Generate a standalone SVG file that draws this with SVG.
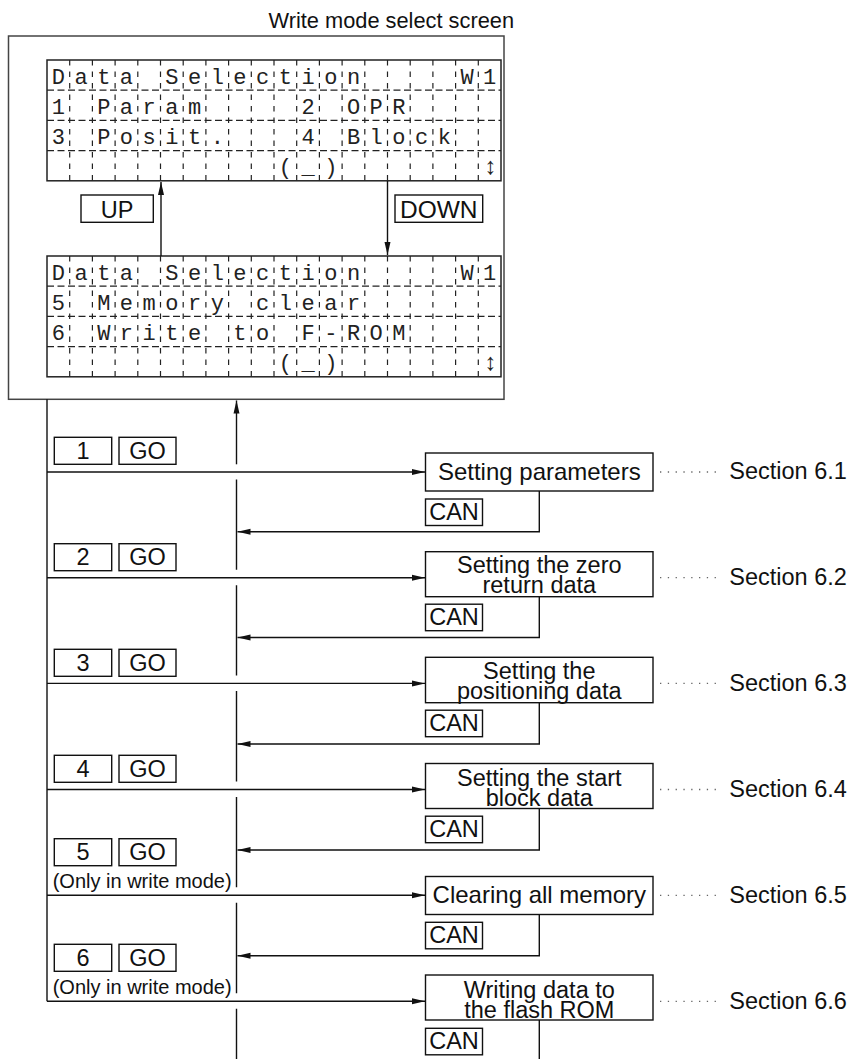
<svg xmlns="http://www.w3.org/2000/svg" width="851" height="1059" viewBox="0 0 851 1059">
<defs>
<marker id="ah" markerWidth="14" markerHeight="8" refX="13" refY="4" orient="auto" markerUnits="userSpaceOnUse"><path d="M0,1 L13,4 L0,7 z" fill="#111"/></marker>
<style>
.ln{stroke:#111;stroke-width:1.4;fill:none}
.fr{stroke:#444;stroke-width:1.5;fill:none}
.box{fill:#fff;stroke:#111;stroke-width:1.4}
.lcd{fill:#fff;stroke:#222;stroke-width:1.5}
.vd{stroke:#222;stroke-width:1.2;stroke-dasharray:5.5 6;fill:none}
.hd{stroke:#222;stroke-width:1.2;stroke-dasharray:7 3.5;fill:none}
.dot{stroke:#666;stroke-width:1.3;stroke-dasharray:1.3 6.5;fill:none}
.t{font-family:"Liberation Sans",Arial,sans-serif;font-size:23.5px;fill:#111}
.b{font-family:"Liberation Sans",Arial,sans-serif;font-size:23.5px;fill:#111;text-anchor:middle}
.k{font-family:"Liberation Sans",Arial,sans-serif;font-size:23.5px;fill:#111;text-anchor:middle}
.n{font-family:"Liberation Sans",Arial,sans-serif;font-size:20px;fill:#111}
.m{font-family:"Liberation Mono","Courier New",monospace;font-size:22px;fill:#222;letter-spacing:9.5px}
.ar{font-size:24px}
</style>
</defs>

<text id="title" class="t" x="268.5" y="28" style="font-size:21.8px">Write mode select screen</text>

<g id="screen-frame"><rect class="fr" x="8.5" y="36" width="495.5" height="363.3"/></g>

<g id="lcd1">
<rect class="lcd" x="47" y="60" width="454" height="120.8"/>
<path class="vd" d="M69.7,60V180.8M92.4,60V180.8M115.1,60V180.8M137.8,60V180.8M160.5,60V180.8M183.2,60V180.8M205.9,60V180.8M228.6,60V180.8M251.3,60V180.8M274,60V180.8M296.7,60V180.8M319.4,60V180.8M342.1,60V180.8M364.8,60V180.8M387.5,60V180.8M410.2,60V180.8M432.9,60V180.8M455.6,60V180.8M478.3,60V180.8"/>
<path class="hd" d="M47,90.2H501M47,120.4H501M47,150.6H501"/>
<text class="m" x="51.75" y="83.5" xml:space="preserve">Data Selection    W1</text>
<text class="m" x="51.75" y="113.7" xml:space="preserve">1 Param    2 OPR</text>
<text class="m" x="51.75" y="143.9" xml:space="preserve">3 Posit.   4 Block</text>
<text class="m" x="51.75" y="174.1" xml:space="preserve">          (_)      <tspan class="ar">↕</tspan></text>
</g>

<g id="key-up"><rect class="box" x="81" y="195" width="72.3" height="27.3"/><text class="k" x="117.2" y="218">UP</text></g>
<g id="key-down"><rect class="box" x="395" y="195" width="87.7" height="27.3"/><text class="k" x="438.8" y="218" style="font-size:24.5px">DOWN</text></g>

<g id="lcd2">
<rect class="lcd" x="47" y="256" width="454" height="120.8"/>
<path class="vd" d="M69.7,256V376.8M92.4,256V376.8M115.1,256V376.8M137.8,256V376.8M160.5,256V376.8M183.2,256V376.8M205.9,256V376.8M228.6,256V376.8M251.3,256V376.8M274,256V376.8M296.7,256V376.8M319.4,256V376.8M342.1,256V376.8M364.8,256V376.8M387.5,256V376.8M410.2,256V376.8M432.9,256V376.8M455.6,256V376.8M478.3,256V376.8"/>
<path class="hd" d="M47,286.2H501M47,316.4H501M47,346.6H501"/>
<text class="m" x="51.75" y="279.5" xml:space="preserve">Data Selection    W1</text>
<text class="m" x="51.75" y="309.7" xml:space="preserve">5 Memory clear</text>
<text class="m" x="51.75" y="339.9" xml:space="preserve">6 Write to F-ROM</text>
<text class="m" x="51.75" y="370.1" xml:space="preserve">          (_)      <tspan class="ar">↕</tspan></text>
</g>

<g id="keys1"><rect class="box" x="54.3" y="437.3" width="57.4" height="27"/><text class="k" x="83" y="459">1</text><rect class="box" x="119" y="437.3" width="57" height="27"/><text class="k" x="147.5" y="459">GO</text></g>
<g id="keys2"><rect class="box" x="54.3" y="543.7" width="57.4" height="27"/><text class="k" x="83" y="565.4">2</text><rect class="box" x="119" y="543.7" width="57" height="27"/><text class="k" x="147.5" y="565.4">GO</text></g>
<g id="keys3"><rect class="box" x="54.3" y="649.3" width="57.4" height="27"/><text class="k" x="83" y="671">3</text><rect class="box" x="119" y="649.3" width="57" height="27"/><text class="k" x="147.5" y="671">GO</text></g>
<g id="keys4"><rect class="box" x="54.3" y="755.3" width="57.4" height="27"/><text class="k" x="83" y="777">4</text><rect class="box" x="119" y="755.3" width="57" height="27"/><text class="k" x="147.5" y="777">GO</text></g>
<g id="keys5"><rect class="box" x="54.3" y="838.7" width="57.4" height="27"/><text class="k" x="83" y="860.4">5</text><rect class="box" x="119" y="838.7" width="57" height="27"/><text class="k" x="147.5" y="860.4">GO</text><text class="n" x="52.7" y="888">(Only in write mode)</text></g>
<g id="keys6"><rect class="box" x="54.3" y="944.3" width="57.4" height="27"/><text class="k" x="83" y="966">6</text><rect class="box" x="119" y="944.3" width="57" height="27"/><text class="k" x="147.5" y="966">GO</text><text class="n" x="52.7" y="994">(Only in write mode)</text></g>

<g id="connectors">
<path class="ln" d="M161,256V182" marker-end="url(#ah)"/>
<path class="ln" d="M387.5,181V255" marker-end="url(#ah)"/>
<path class="ln" d="M47,399.3V1001.3"/>
<path class="ln" d="M236.5,464.3V400.5" marker-end="url(#ah)"/>
<path class="ln" d="M236.5,479.5V569.7M236.5,585.2V675.4M236.5,691V781.5M236.5,797V887.3M236.5,902.8V993.3M236.5,1008.8V1059"/>
<path class="ln" d="M47,472H425" marker-end="url(#ah)"/>
<path class="ln" d="M47,577.7H425" marker-end="url(#ah)"/>
<path class="ln" d="M47,683.4H425" marker-end="url(#ah)"/>
<path class="ln" d="M47,789.5H425" marker-end="url(#ah)"/>
<path class="ln" d="M47,895.3H425" marker-end="url(#ah)"/>
<path class="ln" d="M47,1001.3H425" marker-end="url(#ah)"/>
<path class="ln" d="M539.3,491V531.7H237.5" marker-end="url(#ah)"/>
<path class="ln" d="M539.3,596.7V637.5H237.5" marker-end="url(#ah)"/>
<path class="ln" d="M539.3,702.7V744H237.5" marker-end="url(#ah)"/>
<path class="ln" d="M539.3,808.5V850H237.5" marker-end="url(#ah)"/>
<path class="ln" d="M539.3,914.5V955.7H237.5" marker-end="url(#ah)"/>
<path class="ln" d="M539.3,1020V1059"/>
<path class="dot" d="M660,472H718M660,577.7H718M660,683.4H718M660,789.5H718M660,895.3H718M660,1001.3H718"/>
</g>

<g id="box1"><rect class="box" x="425.5" y="453" width="227.5" height="38"/><text class="b" x="539.3" y="479.5" style="font-size:24px">Setting parameters</text></g>
<g id="can1"><rect class="box" x="425.5" y="499" width="57" height="26.5"/><text class="k" x="454" y="519.5">CAN</text></g>
<g id="sec1"><text class="t" x="729.3" y="479.3">Section 6.1</text></g>

<g id="box2"><rect class="box" x="425.5" y="551.7" width="227.5" height="45"/><text class="b" x="539.3" y="572.8">Setting the zero</text><text class="b" x="539.3" y="593">return data</text></g>
<g id="can2"><rect class="box" x="425.5" y="604.2" width="57" height="26.5"/><text class="k" x="454" y="624.7">CAN</text></g>
<g id="sec2"><text class="t" x="729.3" y="584.8">Section 6.2</text></g>

<g id="box3"><rect class="box" x="425.5" y="657.3" width="227.5" height="45.4"/><text class="b" x="539.3" y="678.6">Setting the</text><text class="b" x="539.3" y="698.8">positioning data</text></g>
<g id="can3"><rect class="box" x="425.5" y="710.2" width="57" height="26.5"/><text class="k" x="454" y="730.7">CAN</text></g>
<g id="sec3"><text class="t" x="729.3" y="690.6">Section 6.3</text></g>

<g id="box4"><rect class="box" x="425.5" y="763.5" width="227.5" height="45"/><text class="b" x="539.3" y="785.6">Setting the start</text><text class="b" x="539.3" y="805.8">block data</text></g>
<g id="can4"><rect class="box" x="425.5" y="816.2" width="57" height="26.5"/><text class="k" x="454" y="836.7">CAN</text></g>
<g id="sec4"><text class="t" x="729.3" y="796.7">Section 6.4</text></g>

<g id="box5"><rect class="box" x="425.5" y="876.5" width="227.5" height="38"/><text class="b" x="539.3" y="903.3" style="font-size:24px">Clearing all memory</text></g>
<g id="can5"><rect class="box" x="425.5" y="922.3" width="57" height="26.5"/><text class="k" x="454" y="942.8">CAN</text></g>
<g id="sec5"><text class="t" x="729.3" y="902.5">Section 6.5</text></g>

<g id="box6"><rect class="box" x="425.5" y="975" width="227.5" height="45"/><text class="b" x="539.3" y="997.6">Writing data to</text><text class="b" x="539.3" y="1017.8">the flash ROM</text></g>
<g id="can6"><rect class="box" x="425.5" y="1028.3" width="57" height="26.5"/><text class="k" x="454" y="1048.8">CAN</text></g>
<g id="sec6"><text class="t" x="729.3" y="1008.5">Section 6.6</text></g>
</svg>
